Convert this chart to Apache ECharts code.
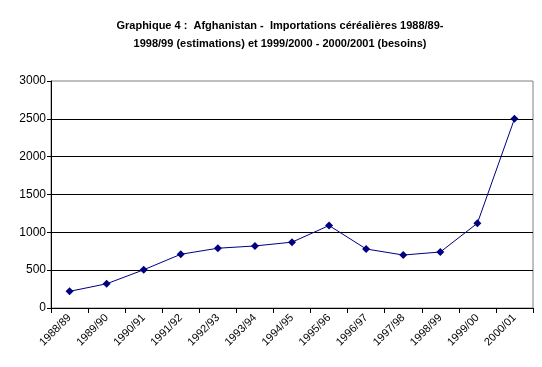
<!DOCTYPE html>
<html><head><meta charset="utf-8">
<script src="https://cdn.jsdelivr.net/npm/echarts@6/dist/echarts.min.js"></script>
<style>html,body{margin:0;padding:0;background:#fff}#c{width:542px;height:367px}</style>
</head><body><div id="c"></div>
<script>
var categories = ['1988/89','1989/90','1990/91','1991/92','1992/93','1993/94','1994/95','1995/96','1996/97','1997/98','1998/99','1999/00','2000/01'];
var imports = [220, 320, 505, 710, 790, 820, 870, 1090, 780, 700, 740, 1120, 2500];
var titleLine1 = 'Graphique 4 :  Afghanistan -  Importations céréalières 1988/89-';
var titleLine2 = '1998/99 (estimations) et 1999/2000 - 2000/2001 (besoins)';

var chart = echarts.init(document.getElementById('c'));
chart.setOption({
  backgroundColor: '#fff',
  animation: false,
  title: {
    text: titleLine1 + '\n' + titleLine2,
    left: 275, top: 12, textAlign: 'center',
    textStyle: {fontFamily: 'Arial, Liberation Sans', fontSize: 11, fontWeight: 'bold', color: '#000', lineHeight: 18}
  },
  grid: {left: 51, right: 9, top: 81, bottom: 59, show: true, borderColor: '#808080', borderWidth: 1, backgroundColor: 'transparent'},
  xAxis: {
    type: 'category', data: categories, boundaryGap: true,
    axisLine: {lineStyle: {color: '#000', width: 1}},
    axisTick: {show: true, interval: 0, length: 5, lineStyle: {color: '#000'}},
    axisLabel: {interval: 0, rotate: 45, margin: 8, fontFamily: 'Arial, Liberation Sans', fontSize: 11, color: '#000'}
  },
  yAxis: {
    type: 'value', min: 0, max: 3000, interval: 500,
    axisLine: {show: true, lineStyle: {color: '#000', width: 1}},
    axisTick: {show: true, length: 4, lineStyle: {color: '#000'}},
    axisLabel: {margin: 5, fontFamily: 'Arial, Liberation Sans', fontSize: 12, color: '#000', formatter: function (v) { return String(v); }},
    splitLine: {show: true, showMaxLine: false, lineStyle: {color: '#000', width: 1}}
  },
  series: [{
    type: 'line', data: imports,
    symbol: 'diamond', symbolSize: 8,
    lineStyle: {color: '#000080', width: 1},
    itemStyle: {color: '#000080'}
  }]
});
</script></body></html>
